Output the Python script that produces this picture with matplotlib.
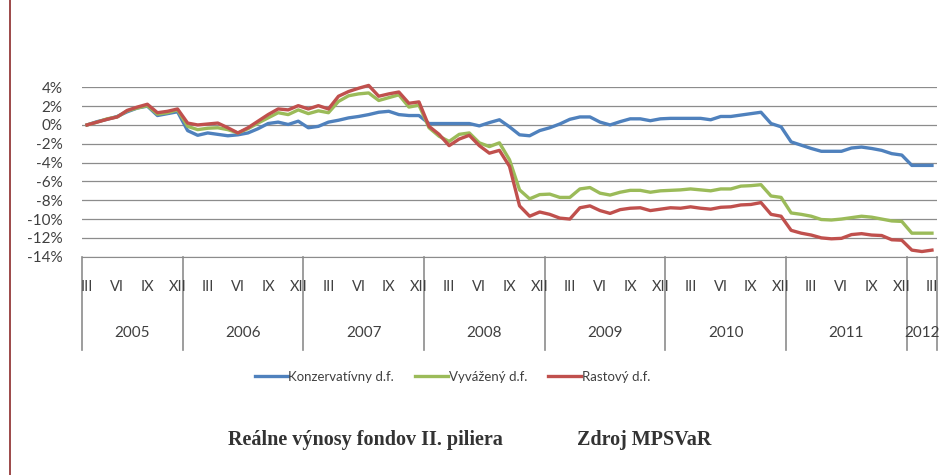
import numpy as np
import pandas as pd
import matplotlib
matplotlib.use('Agg')
import matplotlib.pyplot as plt
import matplotlib.transforms as mtransforms
from matplotlib.lines import Line2D

## Data: monthly real returns (%), March 2005 - March 2012
months = pd.period_range('2005-03', '2012-03', freq='M')

konzervativny = [
    0.0, 0.35, 0.6, 0.9, 1.4, 1.8, 2.0, 1.0, 1.2, 1.4,
    -0.6, -1.1, -0.85, -1.0, -1.15, -1.05, -0.85, -0.4, 0.15, 0.3, 0.05, 0.4,
    -0.3, -0.15, 0.3, 0.5, 0.75, 0.9, 1.1, 1.35, 1.45, 1.1, 1.0, 1.0,
    0.15, 0.15, 0.15, 0.15, 0.15, -0.1, 0.25, 0.55, -0.2, -1.05, -1.15, -0.6,
    -0.3, 0.1, 0.6, 0.85, 0.85, 0.3, 0.0, 0.35, 0.65, 0.65, 0.45, 0.65,
    0.7, 0.7, 0.7, 0.7, 0.55, 0.9, 0.9, 1.05, 1.2, 1.35, 0.15, -0.2,
    -1.8, -2.15, -2.5, -2.8, -2.8, -2.8, -2.45, -2.35, -2.5, -2.7, -3.05, -3.2,
    -4.3, -4.3, -4.3]
vyvazeny = [
    0.0, 0.3, 0.65, 0.85, 1.5, 1.8, 2.05, 1.15, 1.3, 1.6,
    -0.15, -0.5, -0.35, -0.3, -0.5, -0.85, -0.4, 0.2, 0.75, 1.3, 1.1, 1.6,
    1.2, 1.5, 1.3, 2.5, 3.1, 3.3, 3.4, 2.6, 2.9, 3.2, 1.9, 2.1,
    -0.3, -1.2, -1.75, -1.0, -0.85, -1.9, -2.3, -1.9, -3.7, -6.9, -7.85, -7.4,
    -7.35, -7.7, -7.7, -6.8, -6.65, -7.25, -7.45, -7.15, -6.95, -6.95, -7.15, -7.0,
    -6.95, -6.9, -6.8, -6.9, -7.0, -6.8, -6.8, -6.5, -6.45, -6.35, -7.55, -7.7,
    -9.35, -9.5, -9.7, -10.05, -10.1, -10.0, -9.85, -9.7, -9.8, -10.0, -10.2, -10.25,
    -11.5, -11.5, -11.5]
rastovy = [
    0.0, 0.3, 0.6, 0.85, 1.55, 1.9, 2.2, 1.3, 1.45, 1.7,
    0.2, 0.0, 0.1, 0.2, -0.3, -0.85, -0.3, 0.4, 1.1, 1.7, 1.6, 2.05,
    1.7, 2.05, 1.7, 3.05, 3.55, 3.9, 4.2, 3.05, 3.3, 3.5, 2.3, 2.45,
    -0.15, -1.0, -2.2, -1.5, -1.1, -2.2, -3.0, -2.7, -4.4, -8.6, -9.7, -9.25,
    -9.5, -9.9, -10.0, -8.8, -8.6, -9.1, -9.4, -9.0, -8.85, -8.8, -9.1, -8.95,
    -8.8, -8.85, -8.7, -8.85, -8.95, -8.75, -8.7, -8.5, -8.45, -8.25, -9.5, -9.7,
    -11.2, -11.5, -11.7, -12.0, -12.1, -12.05, -11.65, -11.55, -11.7, -11.75, -12.2, -12.25,
    -13.3, -13.45, -13.3]

series_names = ['Konzervatívny d.f.', 'Vyvážený d.f.', 'Rastový d.f.']
colors = ['#4F81BD', '#9BBB59', '#C0504D']
roman = {3: 'III', 6: 'VI', 9: 'IX', 12: 'XII'}

plt.rcParams['font.family'] = ['Lato', 'DejaVu Sans']
text_color = '#404040'

fig = plt.figure(figsize=(9.45, 4.75), dpi=100)
ax = fig.add_axes([82/945, 1 - 256.7/475, (937 - 82)/945, (256.7 - 87.3)/475])

x = np.arange(len(months))
for vals, c, name in zip([konzervativny, vyvazeny, rastovy], colors, series_names):
    ax.plot(x, vals, color=c, lw=2.4, label=name, solid_joinstyle='round', clip_on=False)

ax.set_xlim(-0.5, len(months) - 0.5)
ax.set_ylim(-14, 4)
ax.set_yticks(np.arange(-14, 5, 2))
ax.set_yticklabels([f'{v}%' for v in range(-14, 5, 2)], fontsize=11, color=text_color)
ax.yaxis.grid(True, color='#8c8c8c', lw=0.9)
ax.set_axisbelow(True)
ax.tick_params(axis='y', length=0, pad=14)
for s in ['top', 'right', 'left']:
    ax.spines[s].set_visible(False)
ax.spines['bottom'].set_color('#8c8c8c')
ax.set_xticks([])

# multi-level category axis (months + years)
tr = mtransforms.blended_transform_factory(ax.transData, fig.transFigure)
y_axis = 1 - 256.7/475
y_month = 1 - 287/475
y_year = 1 - 333/475
y_sep = 1 - 350/475
for i, p in enumerate(months):
    if p.month in roman:
        ax.text(i, y_month, roman[p.month], transform=tr, ha='center', va='center',
                fontsize=10.5, color=text_color)

years = sorted(set(p.year for p in months))
bounds = [-0.5]
for yr in years:
    idx = [i for i, p in enumerate(months) if p.year == yr]
    ax.text((idx[0] + idx[-1]) / 2, y_year, str(yr), transform=tr, ha='center', va='center',
            fontsize=11, color=text_color)
    bounds.append(idx[-1] + 0.5)
for b in bounds:
    ax.add_line(Line2D([b, b], [y_sep, y_axis], transform=tr, color='#8c8c8c', lw=1.2, clip_on=False))

leg = fig.legend(loc='center', bbox_to_anchor=(0.479, 1 - 377/475), ncol=3, frameon=False,
                 fontsize=9.5, handlelength=2.5, handletextpad=0.05, columnspacing=1.6)
for t in leg.get_texts():
    t.set_color(text_color)

fig.text(228/945, 1 - 440/475, 'Reálne výnosy fondov II. piliera', fontsize=14.5, fontweight='bold',
         family='Liberation Serif', color='#333333', ha='left', va='center')
fig.text(577/945, 1 - 440/475, 'Zdroj MPSVaR', fontsize=14.5, fontweight='bold',
         family='Liberation Serif', color='#333333', ha='left', va='center')

# page border on the left
fig.add_artist(Line2D([10/945, 10/945], [0, 1], transform=fig.transFigure, color='#8b2a2a', lw=1.2))

fig.savefig('out.png', dpi=100)
